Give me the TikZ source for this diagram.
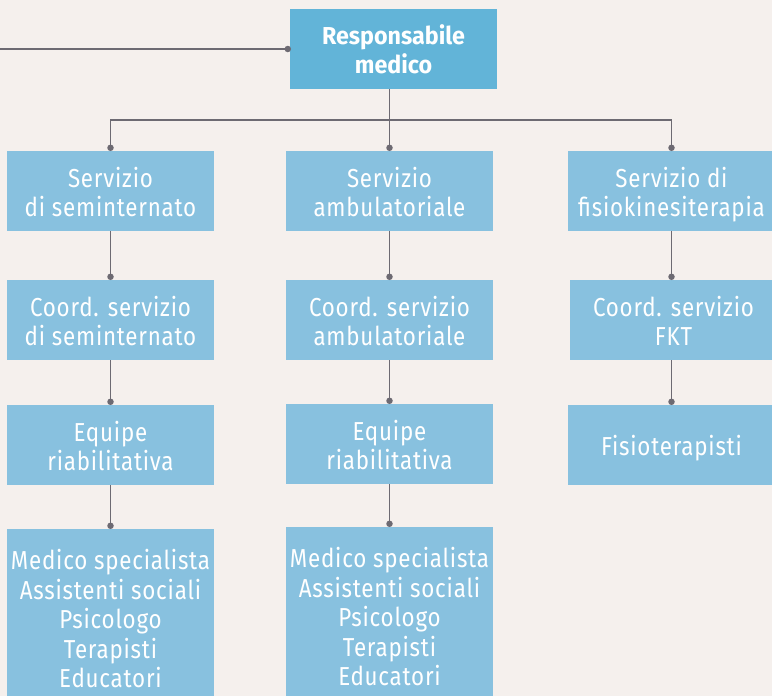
\documentclass[tikz,border=0pt]{standalone}
\usepackage{fontspec}
\setmainfont{Fira Sans}
\newfontfamily\bodyfont{Fira Sans}[FakeStretch=0.86,LetterSpace=3]
\newfontfamily\titlefont{Fira Sans}[FakeStretch=0.95]
\definecolor{bgc}{HTML}{F5F0ED}
\definecolor{topc}{HTML}{62B4D8}
\definecolor{boxc}{HTML}{88C1DF}
\definecolor{linec}{HTML}{6D6A72}
\newcommand{\bx}[2][30.35pt]{\begin{tabular}{@{}c@{}}\rule{0pt}{#1}#2\end{tabular}}
\begin{document}
\begin{tikzpicture}[x=1pt,y=-1pt,
  box/.style={fill=boxc, text=white, minimum width=207pt, minimum height=80pt, inner sep=0pt,
    font=\bodyfont\fontsize{26}{29.5}\selectfont},
  topbox/.style={box, fill=topc, font=\titlefont\fontsize{24.5}{28}\selectfont\bfseries},
  conn/.style={draw=linec, line width=1.2pt},
  dot/.style={fill=linec, circle, inner sep=0pt, minimum size=6.5pt}]
\fill[bgc] (0,0) rectangle (772,696);
\useasboundingbox (0,0) rectangle (772,696);
\clip (0,0) rectangle (772,696);
% nodes
\node[topbox] (top) at (393.5,49) {\bx[28.4pt]{Responsabile\\medico}};
\node[box] (sA) at (110.5,191) {\bx{Servizio\\di seminternato}};
\node[box] (sB) at (389.5,191) {\bx{Servizio\\ambulatoriale}};
\node[box] (sC) at (671.5,191) {\bx{Servizio di\\fisiokinesiterapia}};
\node[box] (cA) at (110.5,320) {\bx{Coord. servizio\\di seminternato}};
\node[box] (cB) at (389.5,320) {\bx{Coord. servizio\\ambulatoriale}};
\node[box] (cC) at (673.5,320) {\bx{Coord. servizio\\FKT}};
\node[box] (eA) at (110.5,445) {\bx{Equipe\\riabilitativa}};
\node[box] (eB) at (389.5,444) {\bx{Equipe\\riabilitativa}};
\node[box] (fC) at (671.5,445) {\bx{Fisioterapisti}};
\node[box, minimum height=178pt] (mA) at (110.5,618) {\bx{Medico specialista\\Assistenti sociali\\Psicologo\\Terapisti\\Educatori}};
\node[box, minimum height=178pt] (mB) at (389.5,616) {\bx{Medico specialista\\Assistenti sociali\\Psicologo\\Terapisti\\Educatori}};
% connectors
\coordinate (lft) at (0,49);
\coordinate (bar) at (389.5,120);
\draw[conn] (lft) -- ([xshift=-2pt]top.west);
\node[dot] at ([xshift=-2pt]top.west) {};
\draw[conn] (top.south -| bar) -- ([yshift=3pt]sB.north);
\draw[conn] ([yshift=3pt]sA.north) |- (bar) -| ([yshift=3pt]sC.north);
\foreach \n in {sA,sB,sC} {\node[dot] at ([yshift=3pt]\n.north) {};}
\foreach \a/\b in {sA/cA,sB/cB,cA/eA,cB/eB,eA/mA,eB/mB} {
  \draw[conn] (\a.south) -- ([yshift=3pt]\b.north);
  \node[dot] at ([yshift=3pt]\b.north) {};
}
\draw[conn] ([xshift=-2pt]sC.south -| cC.north) -- ([yshift=3pt,xshift=-2pt]cC.north);
\node[dot] at ([yshift=3pt,xshift=-2pt]cC.north) {};
\draw[conn] ([xshift=-2pt]cC.south) -- ([yshift=3pt]fC.north);
\node[dot] at ([yshift=3pt]fC.north) {};
\end{tikzpicture}
\end{document}
